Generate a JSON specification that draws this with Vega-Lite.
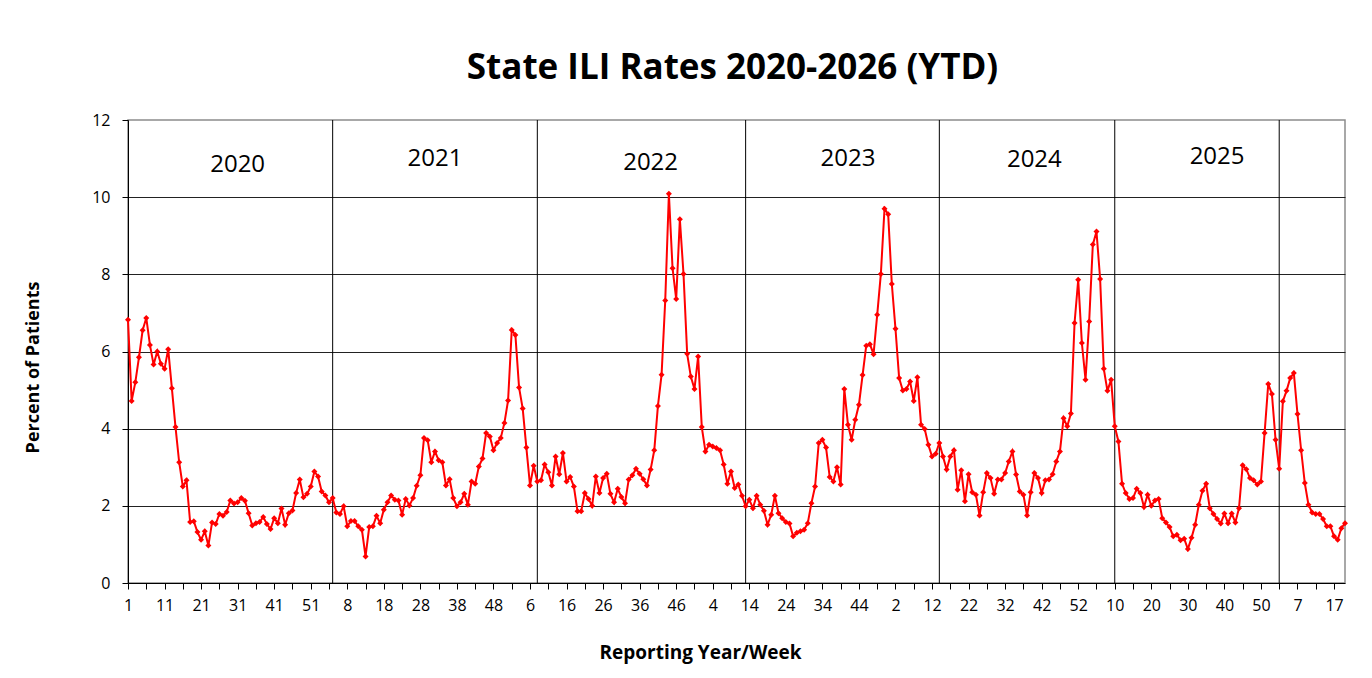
{
"$schema": "https://vega.github.io/schema/vega-lite/v6.json",
"width": 1217,
"height": 463,
"autosize": {"type": "none"},
"padding": {"left": 128, "top": 120, "right": 27, "bottom": 95},
"background": "white",
"title": {"text": "State ILI Rates 2020-2026 (YTD)", "font": "Open Sans", "fontSize": 35, "fontWeight": "bold", "color": "black", "anchor": "middle", "frame": "group", "baseline": "bottom", "offset": -9, "dx": -4},
"config": {"view": {"stroke": "#8c8c8c", "strokeWidth": 1.5}, "font": "Open Sans"},
"datasets": {
"ili": [
{"wk":"2020-01","pct":6.82},{"wk":"2020-02","pct":4.72},{"wk":"2020-03","pct":5.20},{"wk":"2020-04","pct":5.85},{"wk":"2020-05","pct":6.55},{"wk":"2020-06","pct":6.87},{"wk":"2020-07","pct":6.17},{"wk":"2020-08","pct":5.66},{"wk":"2020-09","pct":6.00},{"wk":"2020-10","pct":5.68},
{"wk":"2020-11","pct":5.55},{"wk":"2020-12","pct":6.06},{"wk":"2020-13","pct":5.05},{"wk":"2020-14","pct":4.04},{"wk":"2020-15","pct":3.13},{"wk":"2020-16","pct":2.50},{"wk":"2020-17","pct":2.66},{"wk":"2020-18","pct":1.58},{"wk":"2020-19","pct":1.60},{"wk":"2020-20","pct":1.32},
{"wk":"2020-21","pct":1.12},{"wk":"2020-22","pct":1.34},{"wk":"2020-23","pct":0.97},{"wk":"2020-24","pct":1.57},{"wk":"2020-25","pct":1.53},{"wk":"2020-26","pct":1.79},{"wk":"2020-27","pct":1.74},{"wk":"2020-28","pct":1.84},{"wk":"2020-29","pct":2.14},{"wk":"2020-30","pct":2.06},
{"wk":"2020-31","pct":2.09},{"wk":"2020-32","pct":2.20},{"wk":"2020-33","pct":2.13},{"wk":"2020-34","pct":1.81},{"wk":"2020-35","pct":1.49},{"wk":"2020-36","pct":1.55},{"wk":"2020-37","pct":1.58},{"wk":"2020-38","pct":1.71},{"wk":"2020-39","pct":1.53},{"wk":"2020-40","pct":1.40},
{"wk":"2020-41","pct":1.68},{"wk":"2020-42","pct":1.55},{"wk":"2020-43","pct":1.93},{"wk":"2020-44","pct":1.51},{"wk":"2020-45","pct":1.81},{"wk":"2020-46","pct":1.88},{"wk":"2020-47","pct":2.33},{"wk":"2020-48","pct":2.68},{"wk":"2020-49","pct":2.22},{"wk":"2020-50","pct":2.31},
{"wk":"2020-51","pct":2.50},{"wk":"2020-52","pct":2.89},{"wk":"2020-53","pct":2.76},
{"wk":"2021-01","pct":2.37},{"wk":"2021-02","pct":2.27},{"wk":"2021-03","pct":2.09},{"wk":"2021-04","pct":2.20},{"wk":"2021-05","pct":1.83},{"wk":"2021-06","pct":1.79},{"wk":"2021-07","pct":1.99},{"wk":"2021-08","pct":1.47},{"wk":"2021-09","pct":1.61},{"wk":"2021-10","pct":1.61},
{"wk":"2021-11","pct":1.47},{"wk":"2021-12","pct":1.38},{"wk":"2021-13","pct":0.69},{"wk":"2021-14","pct":1.45},{"wk":"2021-15","pct":1.47},{"wk":"2021-16","pct":1.74},{"wk":"2021-17","pct":1.55},{"wk":"2021-18","pct":1.90},{"wk":"2021-19","pct":2.09},{"wk":"2021-20","pct":2.27},
{"wk":"2021-21","pct":2.16},{"wk":"2021-22","pct":2.14},{"wk":"2021-23","pct":1.77},{"wk":"2021-24","pct":2.18},{"wk":"2021-25","pct":2.01},{"wk":"2021-26","pct":2.20},{"wk":"2021-27","pct":2.52},{"wk":"2021-28","pct":2.79},{"wk":"2021-29","pct":3.76},{"wk":"2021-30","pct":3.70},
{"wk":"2021-31","pct":3.13},{"wk":"2021-32","pct":3.41},{"wk":"2021-33","pct":3.18},{"wk":"2021-34","pct":3.13},{"wk":"2021-35","pct":2.53},{"wk":"2021-36","pct":2.69},{"wk":"2021-37","pct":2.20},{"wk":"2021-38","pct":1.99},{"wk":"2021-39","pct":2.09},{"wk":"2021-40","pct":2.31},
{"wk":"2021-41","pct":2.03},{"wk":"2021-42","pct":2.63},{"wk":"2021-43","pct":2.57},{"wk":"2021-44","pct":3.02},{"wk":"2021-45","pct":3.23},{"wk":"2021-46","pct":3.89},{"wk":"2021-47","pct":3.80},{"wk":"2021-48","pct":3.44},{"wk":"2021-49","pct":3.63},{"wk":"2021-50","pct":3.76},
{"wk":"2021-51","pct":4.15},{"wk":"2021-52","pct":4.73},
{"wk":"2022-01","pct":6.56},{"wk":"2022-02","pct":6.43},{"wk":"2022-03","pct":5.07},{"wk":"2022-04","pct":4.52},{"wk":"2022-05","pct":3.51},{"wk":"2022-06","pct":2.53},{"wk":"2022-07","pct":3.04},{"wk":"2022-08","pct":2.63},{"wk":"2022-09","pct":2.66},{"wk":"2022-10","pct":3.07},
{"wk":"2022-11","pct":2.87},{"wk":"2022-12","pct":2.53},{"wk":"2022-13","pct":3.28},{"wk":"2022-14","pct":2.82},{"wk":"2022-15","pct":3.37},{"wk":"2022-16","pct":2.63},{"wk":"2022-17","pct":2.75},{"wk":"2022-18","pct":2.50},{"wk":"2022-19","pct":1.86},{"wk":"2022-20","pct":1.86},
{"wk":"2022-21","pct":2.33},{"wk":"2022-22","pct":2.18},{"wk":"2022-23","pct":2.00},{"wk":"2022-24","pct":2.76},{"wk":"2022-25","pct":2.33},{"wk":"2022-26","pct":2.72},{"wk":"2022-27","pct":2.83},{"wk":"2022-28","pct":2.31},{"wk":"2022-29","pct":2.09},{"wk":"2022-30","pct":2.44},
{"wk":"2022-31","pct":2.23},{"wk":"2022-32","pct":2.07},{"wk":"2022-33","pct":2.68},{"wk":"2022-34","pct":2.79},{"wk":"2022-35","pct":2.96},{"wk":"2022-36","pct":2.83},{"wk":"2022-37","pct":2.69},{"wk":"2022-38","pct":2.53},{"wk":"2022-39","pct":2.94},{"wk":"2022-40","pct":3.44},
{"wk":"2022-41","pct":4.59},{"wk":"2022-42","pct":5.40},{"wk":"2022-43","pct":7.32},{"wk":"2022-44","pct":10.09},{"wk":"2022-45","pct":8.16},{"wk":"2022-46","pct":7.36},{"wk":"2022-47","pct":9.43},{"wk":"2022-48","pct":8.01},{"wk":"2022-49","pct":5.94},{"wk":"2022-50","pct":5.35},
{"wk":"2022-51","pct":5.03},{"wk":"2022-52","pct":5.87},
{"wk":"2023-01","pct":4.04},{"wk":"2023-02","pct":3.41},{"wk":"2023-03","pct":3.58},{"wk":"2023-04","pct":3.54},{"wk":"2023-05","pct":3.50},{"wk":"2023-06","pct":3.44},{"wk":"2023-07","pct":3.07},{"wk":"2023-08","pct":2.57},{"wk":"2023-09","pct":2.89},{"wk":"2023-10","pct":2.46},
{"wk":"2023-11","pct":2.55},{"wk":"2023-12","pct":2.26},{"wk":"2023-13","pct":1.99},{"wk":"2023-14","pct":2.16},{"wk":"2023-15","pct":1.94},{"wk":"2023-16","pct":2.26},{"wk":"2023-17","pct":2.03},{"wk":"2023-18","pct":1.87},{"wk":"2023-19","pct":1.51},{"wk":"2023-20","pct":1.77},
{"wk":"2023-21","pct":2.26},{"wk":"2023-22","pct":1.81},{"wk":"2023-23","pct":1.68},{"wk":"2023-24","pct":1.58},{"wk":"2023-25","pct":1.54},{"wk":"2023-26","pct":1.21},{"wk":"2023-27","pct":1.30},{"wk":"2023-28","pct":1.34},{"wk":"2023-29","pct":1.38},{"wk":"2023-30","pct":1.55},
{"wk":"2023-31","pct":2.07},{"wk":"2023-32","pct":2.50},{"wk":"2023-33","pct":3.63},{"wk":"2023-34","pct":3.71},{"wk":"2023-35","pct":3.51},{"wk":"2023-36","pct":2.75},{"wk":"2023-37","pct":2.63},{"wk":"2023-38","pct":3.00},{"wk":"2023-39","pct":2.55},{"wk":"2023-40","pct":5.03},
{"wk":"2023-41","pct":4.10},{"wk":"2023-42","pct":3.71},{"wk":"2023-43","pct":4.23},{"wk":"2023-44","pct":4.62},{"wk":"2023-45","pct":5.39},{"wk":"2023-46","pct":6.15},{"wk":"2023-47","pct":6.19},{"wk":"2023-48","pct":5.93},{"wk":"2023-49","pct":6.95},{"wk":"2023-50","pct":8.01},
{"wk":"2023-51","pct":9.70},{"wk":"2023-52","pct":9.56},
{"wk":"2024-01","pct":7.75},{"wk":"2024-02","pct":6.59},{"wk":"2024-03","pct":5.31},{"wk":"2024-04","pct":4.99},{"wk":"2024-05","pct":5.03},{"wk":"2024-06","pct":5.22},{"wk":"2024-07","pct":4.72},{"wk":"2024-08","pct":5.33},{"wk":"2024-09","pct":4.10},{"wk":"2024-10","pct":3.99},
{"wk":"2024-11","pct":3.58},{"wk":"2024-12","pct":3.28},{"wk":"2024-13","pct":3.35},{"wk":"2024-14","pct":3.63},{"wk":"2024-15","pct":3.28},{"wk":"2024-16","pct":2.94},{"wk":"2024-17","pct":3.28},{"wk":"2024-18","pct":3.44},{"wk":"2024-19","pct":2.42},{"wk":"2024-20","pct":2.92},
{"wk":"2024-21","pct":2.12},{"wk":"2024-22","pct":2.82},{"wk":"2024-23","pct":2.35},{"wk":"2024-24","pct":2.29},{"wk":"2024-25","pct":1.75},{"wk":"2024-26","pct":2.35},{"wk":"2024-27","pct":2.85},{"wk":"2024-28","pct":2.72},{"wk":"2024-29","pct":2.31},{"wk":"2024-30","pct":2.68},
{"wk":"2024-31","pct":2.68},{"wk":"2024-32","pct":2.85},{"wk":"2024-33","pct":3.15},{"wk":"2024-34","pct":3.41},{"wk":"2024-35","pct":2.81},{"wk":"2024-36","pct":2.37},{"wk":"2024-37","pct":2.29},{"wk":"2024-38","pct":1.75},{"wk":"2024-39","pct":2.35},{"wk":"2024-40","pct":2.85},
{"wk":"2024-41","pct":2.72},{"wk":"2024-42","pct":2.33},{"wk":"2024-43","pct":2.66},{"wk":"2024-44","pct":2.68},{"wk":"2024-45","pct":2.82},{"wk":"2024-46","pct":3.15},{"wk":"2024-47","pct":3.41},{"wk":"2024-48","pct":4.27},{"wk":"2024-49","pct":4.06},{"wk":"2024-50","pct":4.39},
{"wk":"2024-51","pct":6.74},{"wk":"2024-52","pct":7.86},
{"wk":"2025-01","pct":6.22},{"wk":"2025-02","pct":5.27},{"wk":"2025-03","pct":6.78},{"wk":"2025-04","pct":8.77},{"wk":"2025-05","pct":9.11},{"wk":"2025-06","pct":7.88},{"wk":"2025-07","pct":5.55},{"wk":"2025-08","pct":4.98},{"wk":"2025-09","pct":5.27},{"wk":"2025-10","pct":4.06},
{"wk":"2025-11","pct":3.67},{"wk":"2025-12","pct":2.57},{"wk":"2025-13","pct":2.33},{"wk":"2025-14","pct":2.18},{"wk":"2025-15","pct":2.20},{"wk":"2025-16","pct":2.44},{"wk":"2025-17","pct":2.33},{"wk":"2025-18","pct":1.97},{"wk":"2025-19","pct":2.29},{"wk":"2025-20","pct":2.00},
{"wk":"2025-21","pct":2.14},{"wk":"2025-22","pct":2.18},{"wk":"2025-23","pct":1.68},{"wk":"2025-24","pct":1.57},{"wk":"2025-25","pct":1.45},{"wk":"2025-26","pct":1.21},{"wk":"2025-27","pct":1.25},{"wk":"2025-28","pct":1.11},{"wk":"2025-29","pct":1.15},{"wk":"2025-30","pct":0.88},
{"wk":"2025-31","pct":1.17},{"wk":"2025-32","pct":1.51},{"wk":"2025-33","pct":2.03},{"wk":"2025-34","pct":2.39},{"wk":"2025-35","pct":2.57},{"wk":"2025-36","pct":1.94},{"wk":"2025-37","pct":1.79},{"wk":"2025-38","pct":1.66},{"wk":"2025-39","pct":1.54},{"wk":"2025-40","pct":1.80},
{"wk":"2025-41","pct":1.55},{"wk":"2025-42","pct":1.80},{"wk":"2025-43","pct":1.57},{"wk":"2025-44","pct":1.94},{"wk":"2025-45","pct":3.05},{"wk":"2025-46","pct":2.95},{"wk":"2025-47","pct":2.72},{"wk":"2025-48","pct":2.66},{"wk":"2025-49","pct":2.55},{"wk":"2025-50","pct":2.63},
{"wk":"2025-51","pct":3.89},{"wk":"2025-52","pct":5.16},{"wk":"2025-53","pct":4.90},
{"wk":"2026-01","pct":3.71},{"wk":"2026-02","pct":2.96},{"wk":"2026-03","pct":4.71},{"wk":"2026-04","pct":4.98},{"wk":"2026-05","pct":5.31},{"wk":"2026-06","pct":5.44},{"wk":"2026-07","pct":4.38},{"wk":"2026-08","pct":3.44},{"wk":"2026-09","pct":2.59},{"wk":"2026-10","pct":2.03},
{"wk":"2026-11","pct":1.83},{"wk":"2026-12","pct":1.79},{"wk":"2026-13","pct":1.79},{"wk":"2026-14","pct":1.66},{"wk":"2026-15","pct":1.47},{"wk":"2026-16","pct":1.47},{"wk":"2026-17","pct":1.21},{"wk":"2026-18","pct":1.12},{"wk":"2026-19","pct":1.42},{"wk":"2026-20","pct":1.55}
],
"dividers": [{"wk":"2021-04"},{"wk":"2022-08"},{"wk":"2023-13"},{"wk":"2024-14"},{"wk":"2025-10"},{"wk":"2026-02"}],
"years": [
{"wk":"2020-31","pct":10.84,"label":"2020"},
{"wk":"2021-32","pct":10.98,"label":"2021"},
{"wk":"2022-39","pct":10.88,"label":"2022"},
{"wk":"2023-41","pct":10.98,"label":"2023"},
{"wk":"2024-40","pct":10.97,"label":"2024"},
{"wk":"2025-38","pct":11.03,"label":"2025"}
]
},
"layer": [
{
"data": {"name": "dividers"},
"mark": {"type": "rule", "color": "black", "strokeWidth": 1},
"encoding": {"x": {"field": "wk", "type": "ordinal", "title": "Reporting Year/Week"}}
},
{
"data": {"name": "ili"},
"mark": {"type": "line", "color": "#ff0000", "strokeWidth": 2, "point": {"shape": "diamond", "size": 36, "color": "#ff0000", "filled": true}},
"encoding": {
"x": {"field": "wk", "type": "ordinal", "title": "Reporting Year/Week",
"scale": {"type": "point", "padding": 0},
"axis": {
"values": ["2020-01","2020-06","2020-11","2020-16","2020-21","2020-26","2020-31","2020-36","2020-41","2020-46","2020-51","2021-03","2021-08","2021-13","2021-18","2021-23","2021-28","2021-33","2021-38","2021-43","2021-48","2022-01","2022-06","2022-11","2022-16","2022-21","2022-26","2022-31","2022-36","2022-41","2022-46","2022-51","2023-04","2023-09","2023-14","2023-19","2023-24","2023-29","2023-34","2023-39","2023-44","2023-49","2024-02","2024-07","2024-12","2024-17","2024-22","2024-27","2024-32","2024-37","2024-42","2024-47","2024-52","2025-05","2025-10","2025-15","2025-20","2025-25","2025-30","2025-35","2025-40","2025-45","2025-50","2026-02","2026-07","2026-12","2026-17"],
"labelExpr": "indexof(['2020-01','2020-11','2020-21','2020-31','2020-41','2020-51','2021-08','2021-18','2021-28','2021-38','2021-48','2022-06','2022-16','2022-26','2022-36','2022-46','2023-04','2023-14','2023-24','2023-34','2023-44','2024-02','2024-12','2024-22','2024-32','2024-42','2024-52','2025-10','2025-20','2025-30','2025-40','2025-50','2026-07','2026-17'], datum.value) >= 0 ? '' + toNumber(slice(datum.value, 5)) : ''",
"labelAngle": 0, "labelAlign": "center", "labelFontSize": 16, "labelColor": "black", "labelPadding": 16, "labelOverlap": false, "labelBound": false, "labelFont": "Open Sans",
"tickSize": 6, "tickColor": "black", "domainColor": "black", "grid": false,
"titleFontSize": 19, "titleFontWeight": "bold", "titleColor": "black", "titleFont": "Open Sans",
"titleX": 572, "titleY": 75, "titleBaseline": "alphabetic", "titleAlign": "center"
}},
"y": {"field": "pct", "type": "quantitative", "title": "Percent of Patients",
"scale": {"domain": [0, 12], "nice": false, "zero": true},
"axis": {
"values": [0,1,2,3,4,5,6,7,8,9,10,11,12],
"labelExpr": "datum.value % 2 === 0 ? datum.label : ''",
"labelFontSize": 16, "labelColor": "black", "labelPadding": 12, "labelFont": "Open Sans",
"tickSize": 6, "tickColor": "black", "domainColor": "black",
"grid": true, "gridColor": "#222222", "gridWidth": 1,
"gridOpacity": {"condition": {"test": "datum.value % 2 === 0 && datum.value > 0 && datum.value < 12", "value": 1}, "value": 0},
"titleFontSize": 18, "titleFontWeight": "bold", "titleColor": "black", "titleFont": "Open Sans",
"titleX": -95, "titleY": 247, "titleAngle": 270, "titleBaseline": "middle", "titleAlign": "center"
}}
}
},
{
"data": {"name": "years"},
"mark": {"type": "text", "fontSize": 24, "font": "Open Sans", "color": "black", "align": "center", "baseline": "middle"},
"encoding": {
"x": {"field": "wk", "type": "ordinal", "title": "Reporting Year/Week"},
"y": {"field": "pct", "type": "quantitative", "title": "Percent of Patients"},
"text": {"field": "label"}
}
}
]
}
